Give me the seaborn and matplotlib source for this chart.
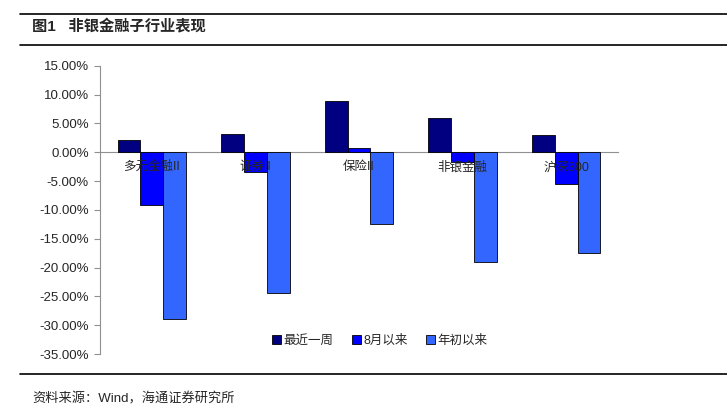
import numpy as np
import matplotlib
matplotlib.use("Agg")
import matplotlib.pyplot as plt
import pandas as pd
import seaborn as sns

# data
categories = ["多元金融II", "证券II", "保险II", "非银金融", "沪深300"]
series = ["最近一周", "8月以来", "年初以来"]
week = [2.1, 3.1, 8.9, 5.9, 2.95]
since_aug = [-9.1, -3.5, 0.8, -1.7, -5.5]
since_jan = [-29.0, -24.4, -12.5, -19.0, -17.4]
yticks = np.arange(-35, 16, 5)

df = pd.DataFrame({
    "cat": categories * 3,
    "series": [s for s in series for _ in categories],
    "value": week + since_aug + since_jan,
})

sns.set_style("white")
plt.rcParams["font.family"] = ["Liberation Sans", "Noto Sans CJK SC", "DejaVu Sans"]

fig = plt.figure(figsize=(7.27, 4.17), dpi=100)
ax = fig.add_axes([0.1376, 0.151, 0.7125, 0.6914])

palette = ["#000080", "#0000FF", "#3366FF"]
sns.barplot(data=df, x="cat", y="value", hue="series", palette=palette,
            width=0.66, saturation=1, edgecolor="black", linewidth=0.6,
            ax=ax, zorder=3)

ax.set_ylim(-35, 15)
ax.set_xlim(-0.5, len(categories) - 0.5)
ax.set_yticks(yticks)
ax.set_yticklabels([f"{v:.2f}%" for v in yticks], fontsize=9.5)
ax.set_xlabel("")
ax.set_ylabel("")

# x axis through zero, ticks at group boundaries
ax.spines["bottom"].set_position(("data", 0))
ax.spines["top"].set_visible(False)
ax.spines["right"].set_visible(False)
for s in ["left", "bottom"]:
    ax.spines[s].set_color("#909090")
    ax.spines[s].set_linewidth(0.8)
ax.set_xticks(np.arange(len(categories)))
ax.set_xticklabels([])
ax.tick_params(axis="x", which="major", length=0)
ax.set_xticks(np.arange(-0.5, len(categories), 1), minor=True)
ax.tick_params(axis="x", which="minor", direction="out", length=4, color="#909090")
ax.tick_params(axis="y", direction="out", length=4, color="#909090", left=True, pad=4)
for i, c in enumerate(categories):
    ax.text(i, -2.6, c, ha="center", va="center", fontsize=9, zorder=4)

ax.legend(loc="lower center", bbox_to_anchor=(0.54, 0.0), ncol=3, frameon=False,
          fontsize=9, handlelength=0.7, handleheight=0.7, handletextpad=0.2,
          columnspacing=1.5, borderaxespad=0.2)

# header and footer
fig.add_artist(plt.Line2D([0.027, 1.0], [1 - 14 / 417, 1 - 14 / 417], color="black", lw=1.2))
fig.add_artist(plt.Line2D([0.027, 1.0], [1 - 45 / 417, 1 - 45 / 417], color="black", lw=1.2))
fig.text(32 / 727, 1 - 27 / 417, "图1   非银金融子行业表现", fontsize=11, fontweight="bold",
         va="center", ha="left")
fig.add_artist(plt.Line2D([0.027, 1.0], [1 - 374 / 417, 1 - 374 / 417], color="black", lw=1.2))
fig.text(32 / 727, 1 - 399 / 417, "资料来源：Wind，海通证券研究所", fontsize=9.5,
         va="center", ha="left")

fig.savefig("out.png", dpi=100)
